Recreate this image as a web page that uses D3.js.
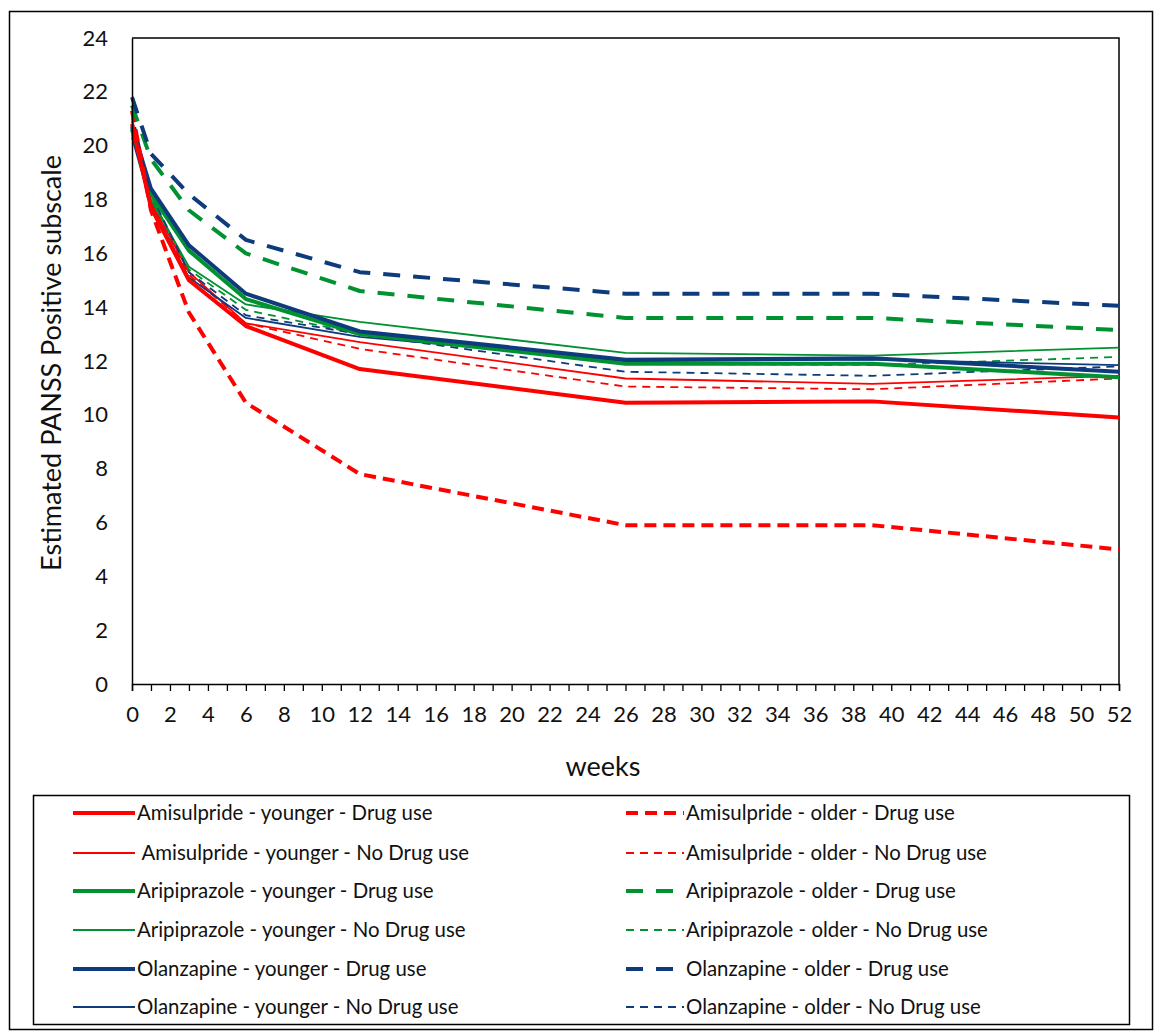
<!DOCTYPE html>
<html><head><meta charset="utf-8">
<script src="https://cdn.jsdelivr.net/npm/d3@7"></script>
<style>body{margin:0;background:#fff}svg{display:block}text{font-family:Lato,"Open Sans",sans-serif;fill:#111}</style>
</head><body><svg id="c" width="1162" height="1033"></svg>
<script>
const weeks = [0, 1, 3, 6, 12, 26, 39, 52];
const seriesNames = [
  "Amisulpride - younger - Drug use",
  "Amisulpride - older - Drug use",
  " Amisulpride - younger - No Drug use",
  "Amisulpride - older - No Drug use",
  "Aripiprazole - younger - Drug use",
  "Aripiprazole - older - Drug use",
  "Aripiprazole - younger - No Drug use",
  "Aripiprazole - older - No Drug use",
  "Olanzapine - younger - Drug use",
  "Olanzapine - older - Drug use",
  "Olanzapine - younger - No Drug use",
  "Olanzapine - older - No Drug use"
];
const amiYoungDrug   = [20.8, 17.7, 15.0, 13.3, 11.7, 10.45, 10.5, 9.9];
const amiOldDrug     = [21.3, 17.6, 13.8, 10.45, 7.8, 5.9, 5.9, 5.0];
const amiYoungNo     = [20.6, 17.9, 15.3, 13.4, 12.7, 11.35, 11.15, 11.45];
const amiOldNo       = [21.0, 18.0, 15.2, 13.4, 12.45, 11.05, 10.95, 11.35];
const ariYoungDrug   = [20.6, 18.2, 16.1, 14.3, 13.0, 11.9, 11.9, 11.4];
const ariOldDrug     = [21.5, 19.5, 17.6, 16.0, 14.6, 13.6, 13.6, 13.15];
const ariYoungNo     = [20.4, 18.0, 15.5, 14.1, 13.45, 12.3, 12.2, 12.5];
const ariOldNo       = [20.9, 18.1, 15.4, 13.9, 13.0, 11.9, 11.85, 12.15];
const olaYoungDrug   = [20.7, 18.4, 16.3, 14.5, 13.1, 12.05, 12.1, 11.6];
const olaOldDrug     = [21.8, 19.7, 18.2, 16.5, 15.3, 14.5, 14.5, 14.05];
const olaYoungNo     = [20.3, 17.8, 15.1, 13.6, 12.9, 12.0, 12.05, 11.85];
const olaOldNo       = [21.2, 18.2, 15.3, 13.7, 13.0, 11.6, 11.45, 11.8];
const seriesValues = [amiYoungDrug, amiOldDrug, amiYoungNo, amiOldNo, ariYoungDrug, ariOldDrug,
                      ariYoungNo, ariOldNo, olaYoungDrug, olaOldDrug, olaYoungNo, olaOldNo];
const yTickValues = [0,2,4,6,8,10,12,14,16,18,20,22,24];
const xTickLabels = d3.range(0, 53, 2);
const yTitle = "Estimated PANSS Positive subscale";
const xTitle = "weeks";

const RED = "#ff0000", GREEN = "#009130", NAVY = "#0d3b7b";
const styles = [
  {c:RED, w:4, d:null}, {c:RED, w:4, d:"12,7"}, {c:RED, w:1.8, d:null}, {c:RED, w:1.8, d:"8,6"},
  {c:GREEN, w:4, d:null}, {c:GREEN, w:4, d:"17,13"}, {c:GREEN, w:1.8, d:null}, {c:GREEN, w:1.8, d:"8,6"},
  {c:NAVY, w:4, d:null}, {c:NAVY, w:4, d:"17,13"}, {c:NAVY, w:1.8, d:null}, {c:NAVY, w:1.8, d:"8,6"}
];

const svg = d3.select("#c");
svg.append("rect").attr("x",9.5).attr("y",11.5).attr("width",1143).attr("height",1018)
  .attr("fill","#fff").attr("stroke","#000").attr("stroke-width",1.5);

const L=132, R=1119, T=38, B=684;
const x = d3.scaleLinear().domain([0,52]).range([L,R]);
const y = d3.scaleLinear().domain([0,24]).range([B,T]);

svg.append("path").attr("d",`M${L},${T}H${R}V${B}`).attr("fill","none").attr("stroke","#000").attr("stroke-width",1.5);

const line = d3.line().x((d,i)=>x(weeks[i])).y(d=>y(d));
const order = [2,3,6,7,10,11,4,8,1,5,9,0];
order.forEach(i=>{
  const s = styles[i];
  svg.append("path").datum(seriesValues[i]).attr("d",line).attr("fill","none")
    .attr("stroke",s.c).attr("stroke-width",s.w).attr("stroke-dasharray",s.d)
    .attr("stroke-linejoin","round");
});

const xAxis = d3.axisBottom(x).tickValues(d3.range(0,53,1)).tickSize(7)
  .tickFormat(d=> xTickLabels.includes(d) ? d : "");
const gx = svg.append("g").attr("transform",`translate(0,${B})`).call(xAxis);
gx.select(".domain").attr("stroke","#000").attr("stroke-width",1.5);
gx.selectAll(".tick line").attr("stroke","#000").attr("stroke-width",1.3);
gx.selectAll("text").attr("font-size",22).attr("dy","1.25em").style("font-family","Lato");

const yAxis = d3.axisLeft(y).tickValues(yTickValues).tickSize(0).tickPadding(24);
const gy = svg.append("g").attr("transform",`translate(${L},0)`).call(yAxis);
gy.select(".domain").attr("stroke","#000").attr("stroke-width",1.5);
gy.selectAll("text").attr("font-size",22).style("font-family","Lato");

svg.append("text").attr("x",603).attr("y",776).attr("text-anchor","middle").attr("font-size",27).text(xTitle);
svg.append("text").attr("transform","translate(61,363) rotate(-90)").attr("text-anchor","middle")
  .attr("font-size",27).text(yTitle);

svg.append("rect").attr("x",33.5).attr("y",795.5).attr("width",1096).attr("height",229)
  .attr("fill","#fff").attr("stroke","#000").attr("stroke-width",1.5);
const rowY = [813, 853, 891, 930, 969, 1007];
seriesNames.forEach((name,i)=>{
  const col = i%2, row = Math.floor(i/2);
  const x0 = col===0 ? 73 : 626, x1 = col===0 ? 135 : 684;
  const s = styles[i];
  const yy = rowY[row];
  svg.append("line").attr("x1",x0).attr("x2",x1).attr("y1",yy).attr("y2",yy)
    .attr("stroke",s.c).attr("stroke-width",s.w).attr("stroke-dasharray",s.d);
  svg.append("text").attr("x",x1+2).attr("y",yy).attr("dy","0.35em").attr("font-size",20.4)
    .attr("xml:space","preserve").style("white-space","pre").text(name);
});
</script></body></html>
